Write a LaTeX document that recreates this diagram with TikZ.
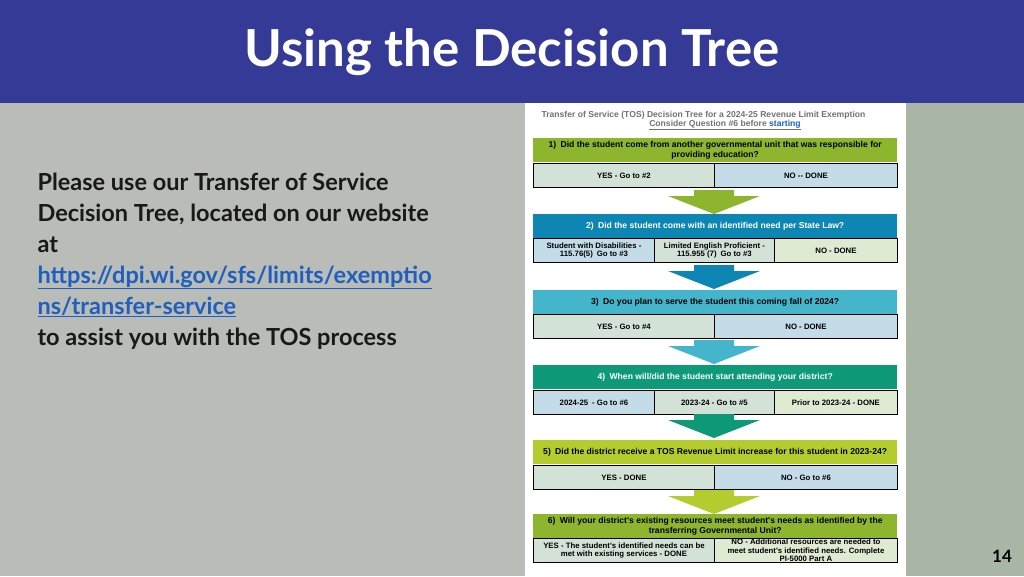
\documentclass[tikz,border=0pt]{standalone}
\usepackage{fontspec}
\setmainfont{Lato}
\newfontfamily\treefont{Liberation Sans}
\usetikzlibrary{positioning}
\definecolor{band}{HTML}{343A96}
\definecolor{slide}{HTML}{B9BCB7}
\definecolor{edge}{HTML}{A9B6A6}
\definecolor{qgreen}{HTML}{8DB62E}
\definecolor{qblue}{HTML}{0E86B3}
\definecolor{qteal}{HTML}{45B5CC}
\definecolor{qsea}{HTML}{0E9A78}
\definecolor{qlime}{HTML}{B5CC2E}
\definecolor{agray}{HTML}{D3E2D6}
\definecolor{ablue}{HTML}{C3DCE8}
\definecolor{apale}{HTML}{DFEAD2}
\definecolor{link}{HTML}{1F5FBF}
\tikzset{
  question/.style={fill=#1,text=white,minimum height=24pt,inner sep=0pt,anchor=north west,
    font=\treefont\bfseries\fontsize{8.6}{9.6}\selectfont,align=center},
  answer/.style={fill=#1,draw=black,line width=0.9pt,minimum height=24pt,inner sep=0pt,anchor=north west,
    font=\treefont\bfseries\fontsize{7.8}{8.3}\selectfont,align=center},
}
\newcommand{\chevron}[3]{% x, top y, colour
  \fill[#3] (#1-20,#2)--(#1+20,#2)--(#1+20,#2+6)--(#1+46,#2+6)--(#1,#2+24)--(#1-46,#2+6)--(#1-20,#2+6)--cycle;}
\begin{document}
\begin{tikzpicture}[x=1pt,y=-1pt]
\useasboundingbox (0,0) rectangle (1024,576);
\fill[slide] (0,0) rectangle (1024,576);
\fill[edge] (906,103) rectangle (1024,576);
\fill[band] (0,0) rectangle (1024,103);
\node[text=white,font=\bfseries\fontsize{51}{55}\selectfont] (title) at (512,52) {Using the Decision Tree};
% left text
\node[anchor=north west,align=left,font=\bfseries\fontsize{23.5}{31}\selectfont,text=black!90] (info) at (34,169)
  {Please use our Transfer of Service\\Decision Tree, located on our website\\at\\
   \textcolor{link}{\underline{https://dpi.wi.gov/sfs/limits/exemptio}}\\
   \textcolor{link}{\underline{ns/transfer-service}}\\to assist you with the TOS process};
\node[font=\bfseries\fontsize{17}{18}\selectfont] (page) at (1002,556) {14};
% tree panel
\fill[white] (525,103) rectangle (906,576);
\begin{scope}
\clip (525,103) rectangle (906,576);
\node[anchor=west,text=black!55,font=\treefont\bfseries\fontsize{8.6}{9}\selectfont] (head) at (538,115)
  {Transfer of Service (TOS) Decision Tree for a 2024-25 Revenue Limit Exemption};
\end{scope}
\node[text=black!55,font=\treefont\bfseries\fontsize{8.6}{9}\selectfont] (hint) at (725,125)
  {\underline{Consider Question \#6 before \textcolor{link}{starting}}};
% 1
\node[question=qgreen,minimum width=364pt,text=black] (q1) at (533,138) {1)\enspace Did the student come from another governmental unit that was responsible for\\providing education?};
\node[answer=agray,minimum width=181pt] (a1y) at (533,163) {YES - Go to \#2};
\node[answer=ablue,minimum width=183pt] (a1n) at (714,163) {NO -- DONE};
\chevron{714}{190}{qgreen}
% 2
\node[question=qblue,minimum width=364pt] (q2) at (533,214) {2)\enspace Did the student come with an identified need per State Law?};
\node[answer=ablue,minimum width=121pt] (a2d) at (533,238) {Student with Disabilities -\\115.76(5)\enspace Go to \#3};
\node[answer=agray,minimum width=120pt] (a2e) at (654,238) {Limited English Proficient -\\115.955 (7)\enspace Go to \#3};
\node[answer=apale,minimum width=123pt] (a2n) at (774,238) {NO - DONE};
\chevron{714}{265}{qblue}
% 3
\node[question=qteal,minimum width=364pt,text=black] (q3) at (533,290) {3)\enspace Do you plan to serve the student this coming fall of 2024?};
\node[answer=agray,minimum width=181pt] (a3y) at (533,314) {YES - Go to \#4};
\node[answer=ablue,minimum width=183pt] (a3n) at (714,314) {NO - DONE};
\chevron{714}{340}{qteal}
% 4
\node[question=qsea,minimum width=364pt] (q4) at (533,365) {4)\enspace When will/did the student start attending your district?};
\node[answer=ablue,minimum width=121pt] (a4a) at (533,390) {2024-25\enspace - Go to \#6};
\node[answer=agray,minimum width=120pt] (a4b) at (654,390) {2023-24 - Go to \#5};
\node[answer=apale,minimum width=123pt] (a4c) at (774,390) {Prior to 2023-24 - DONE};
\chevron{714}{414}{qsea}
% 5
\node[question=qlime,minimum width=364pt,text=black] (q5) at (533,440) {5)\enspace Did the district receive a TOS Revenue Limit increase for this student in 2023-24?};
\node[answer=agray,minimum width=181pt] (a5y) at (533,465) {YES - DONE};
\node[answer=ablue,minimum width=183pt] (a5n) at (714,465) {NO - Go to \#6};
\chevron{714}{490}{qlime}
% 6
\node[question=qgreen,minimum width=364pt,text=black] (q6) at (533,514) {6)\enspace Will your district's existing resources meet student's needs as identified by the\\transferring Governmental Unit?};
\node[answer=agray,minimum width=181pt] (a6y) at (533,538) {YES - The student's identified needs can be\\met with existing services - DONE};
\node[answer=apale,minimum width=183pt] (a6n) at (714,538) {NO - Additional resources are needed to\\meet student's identified needs. Complete\\PI-5000 Part A};
\end{tikzpicture}
\end{document}
